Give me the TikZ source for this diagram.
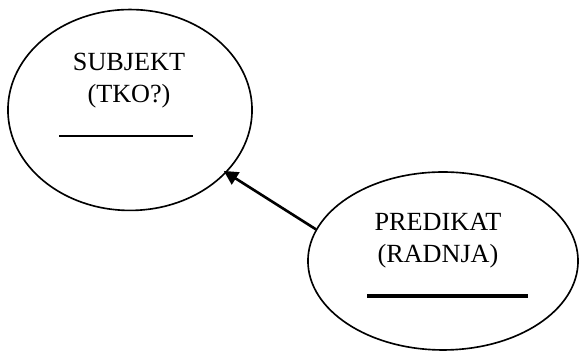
\documentclass[tikz,border=0pt]{standalone}
\usepackage{fontspec}
\setmainfont{Liberation Serif}
\usetikzlibrary{shapes.geometric,arrows.meta}
\begin{document}
\begin{tikzpicture}[x=0.458pt, y=-0.458pt, >={Triangle[length=6.5pt,width=6.5pt]},
    oval/.style={ellipse, draw, line width=0.75pt, inner sep=0pt},
    naziv/.style={align=center, font=\fontsize{12}{14.6}\selectfont, inner sep=0pt},
    crta/.style={line width=1.2pt}]
  \useasboundingbox (0,0) rectangle (579,351);
  % elipse
  \node[oval, minimum width=111.8pt, minimum height=92pt] (subj) at (130,110) {};
  \node[oval, minimum width=123.7pt, minimum height=81.5pt] (pred) at (443,261) {};
  % tekst
  \node[naziv] (subjtxt) at (129,81) {SUBJEKT\\(TKO?)};
  \node[naziv] (predtxt) at (438,241) {PREDIKAT\\(RADNJA)};
  % crte za upis
  \draw[crta] (59,136) -- (193,136);
  \draw[line width=1.7pt] (367,296) -- (528,296);
  % strelica
  \draw[->, line width=1.2pt, shorten >=-1.5pt] (pred.166) -- (subj.-33);
\end{tikzpicture}
\end{document}
